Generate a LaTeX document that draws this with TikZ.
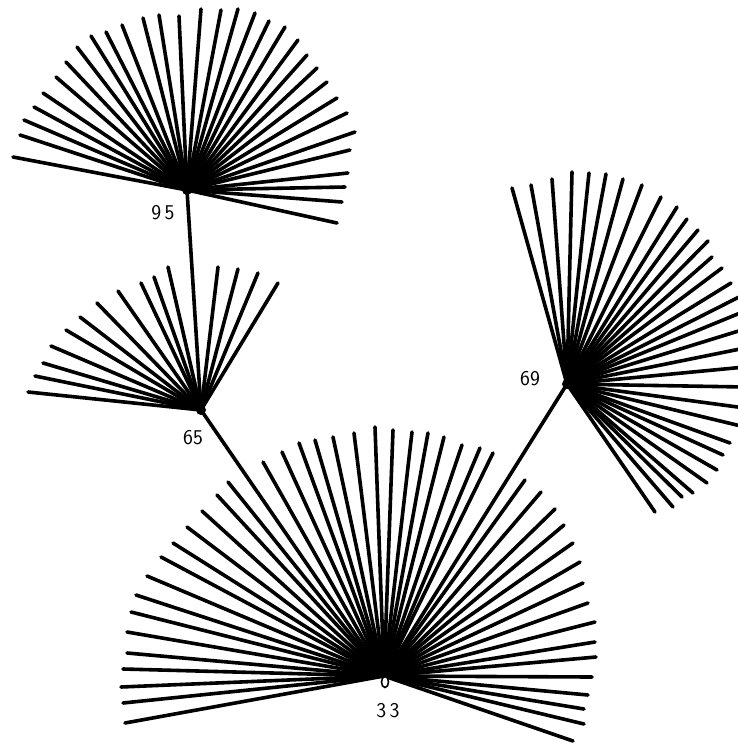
\documentclass[tikz,border=0pt]{standalone}
\usepackage{tikz}

\tikzset{
  ray/.style={line width=3.6pt, line cap=round},
  edge/.style={line width=3.6pt, line cap=round},
  hublabel/.style={font=\sffamily\fontsize{21}{21}\selectfont}
}

\begin{document}
\begin{tikzpicture}[x=1pt,y=-1pt]
            \useasboundingbox (0,0) rectangle (737,745);

            \coordinate (h95) at (187,190);
            \coordinate (h65) at (201,410);
            \coordinate (h69) at (567,384);
            \coordinate (h33) at (384,676);

            % tree edges
            \draw[edge] (h95)--(h65);
            \draw[edge] (h65)--(h33);
            \draw[edge] (h69)--(h33);

            % fan of 95
            \foreach \x/\y in {13/157,20/135,24/120,34/107,43/93,56/77,66/62,77/47,
                91/36,106/32,122/25,143/18,159/15,179/16,201/9,221/10,238/9,255/13,
                269/21,285/27,298/40,307/55,317/68,327/82,337/98,347/113,355/132,
                350/150,348/173,345/187,342/202,337/223}{
                \draw[ray] (h95)--(\x,\y);
            }

            % fan of 65
            \foreach \x/\y in {28/392,35/376,43/363,51/346,66/330,80/317,97/303,
                118/291,141/283,154/277,168/267,218/267,238/269,258/273,278/283}{
                \draw[ray] (h65)--(\x,\y);
            }

            % fan of 69
            \foreach \x/\y in {512/188,531/185,552/179,572/172,589/173,606/174,
                623/179,642/185,661/197,677/207,687/219,698/230,708/241,712/257,
                722/268,731/283,745/294,745/311,745/329,745/348,745/367,745/387,
                745/408,745/427,730/443,723/455,717/470,707/483,693/493,682/497,
                673/507,655/512}{
                \draw[ray] (h69)--(\x,\y);
            }

            % fan of 33
            \foreach \x/\y in {125/723,123/703,121/687,123/669,127/653,127/632,
                131/612,136/595,147/576,161/557,173/543,187/527,202/511,217/495,
                228/482,263/462,282/452,299/443,315/440,333/437,354/433,375/427,
                393/430,412/432,428/433,444/437,462/445,480/448,493/453,525/480,
                541/492,555/509,564/525,573/543,580/562,583/583,588/603,595/622,
                595/642,596/657,592/677,588/695,584/709,584/724,573/741}{
                \draw[ray] (h33)--(\x,\y);
            }

            \foreach \p in {h95,h65,h69}{
                \fill (\p) circle (5pt);
            }
            \draw[line width=1.6pt, fill=white] (385,682) ellipse (3.5 and 5.5);

            \node[hublabel] (l95) at (163,213) {9\,5};
            \node[hublabel] (l65) at (193,438) {65};
            \node[hublabel] (l69) at (530,379) {69};
            \node[hublabel] (l33) at (388,711) {3\,3};
        \end{tikzpicture}
\end{document}
